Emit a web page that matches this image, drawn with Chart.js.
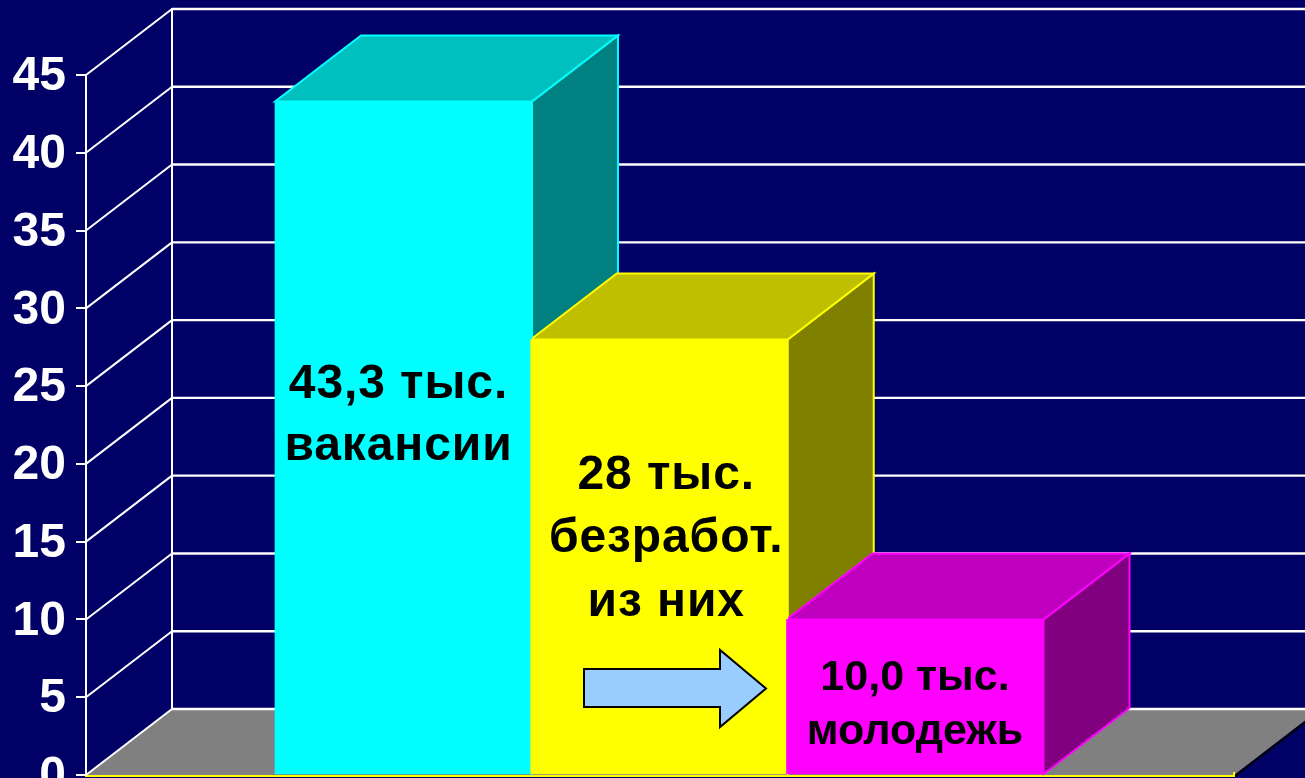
<!DOCTYPE html>
<html><head><meta charset="utf-8">
<style>html,body{margin:0;padding:0;background:#000066;overflow:hidden}canvas{display:block}</style>
<script src="https://cdn.jsdelivr.net/npm/chart.js@4"></script>
</head><body><canvas id="c" width="1305" height="778"></canvas>
<script>
const positions = [0, 1, 2];
const values = [43.3, 28, 10];
const frontColors = ['#00FFFF', '#FFFF00', '#FF00FF'];
const topColors = ['#00BFBF', '#BFBF00', '#BF00BF'];
const sideColors = ['#008080', '#808000', '#800080'];
const barTexts = [['43,3 тыс.', 'вакансии'], ['28 тыс.', 'безработ.', 'из них'], ['10,0 тыс.', 'молодежь']];
const yTicks = [0, 5, 10, 15, 20, 25, 30, 35, 40, 45];

const DX = 86, DY = 66;
const FONT = '"Liberation Sans", Arial, sans-serif';
const textStyle = [
  {size: 48, spacing: 0.9, dx: -5, ys: [398, 460]},
  {size: 48, spacing: 0.9, dx: 7, ys: [489, 552, 616]},
  {size: 43, spacing: 0, dx: 0, ys: [690, 744]}
];

function poly(ctx, pts, fill, stroke, lw) {
  ctx.beginPath();
  pts.forEach((p, i) => i ? ctx.lineTo(p[0], p[1]) : ctx.moveTo(p[0], p[1]));
  ctx.closePath();
  if (fill) { ctx.fillStyle = fill; ctx.fill(); }
  if (stroke) { ctx.strokeStyle = stroke; ctx.lineWidth = lw; ctx.lineJoin = 'miter'; ctx.stroke(); }
}
function line(ctx, x1, y1, x2, y2, color, lw) {
  ctx.beginPath(); ctx.moveTo(x1, y1); ctx.lineTo(x2, y2);
  ctx.strokeStyle = color; ctx.lineWidth = lw; ctx.stroke();
}

const box3d = {
  id: 'box3d',
  beforeDatasetsDraw(chart) {
    const ctx = chart.ctx, a = chart.chartArea, y = chart.scales.y;
    ctx.save();
    // floor
    poly(ctx, [[a.left, a.bottom], [a.left + DX, a.bottom - DY], [a.right + DX, a.bottom - DY], [a.right, a.bottom]], '#808080');
    // black edge on the floor's right side
    line(ctx, a.right + 1, a.bottom + 1, a.right + DX + 1, a.bottom - DY + 1, '#000000', 2);
    // walls grid
    yTicks.forEach(t => {
      const py = y.getPixelForValue(t);
      line(ctx, a.left, py, a.left + DX, py - DY, '#FFFFFF', 2);
      line(ctx, a.left + DX, py - DY, a.right + DX, py - DY, '#FFFFFF', 2.4);
    });
    line(ctx, a.left + DX, y.getPixelForValue(45) - DY - 1, a.left + DX, a.bottom - DY, '#FFFFFF', 2);
    // bar tops and sides, back to front
    chart.getDatasetMeta(0).data.forEach((el, i) => {
      const r = el.x + el.width / 2, l = el.x - el.width / 2, t = el.y, b = el.base;
      poly(ctx, [[r, b], [r + DX, b - DY], [r + DX, t - DY], [r, t]], sideColors[i], frontColors[i], 2);
      poly(ctx, [[l, t], [l + DX, t - DY], [r + DX, t - DY], [r, t]], topColors[i], frontColors[i], 2);
    });
    ctx.restore();
  },
  afterDatasetsDraw(chart) {
    const ctx = chart.ctx, a = chart.chartArea;
    ctx.save();
    ctx.textAlign = 'center';
    ctx.textBaseline = 'alphabetic';
    ctx.fillStyle = '#000000';
    chart.getDatasetMeta(0).data.forEach((el, i) => {
      const s = textStyle[i];
      ctx.font = 'bold ' + s.size + 'px ' + FONT;
      ctx.letterSpacing = s.spacing + 'px';
      barTexts[i].forEach((txt, k) => ctx.fillText(txt, el.x + s.dx, s.ys[k]));
    });
    ctx.letterSpacing = '0px';
    // arrow annotation
    poly(ctx, [[584, 669], [720, 669], [720, 650], [766, 688.5], [720, 727], [720, 707], [584, 707]], '#99CCFF', '#000000', 2);
    // end notch of the base axis
    line(ctx, a.right, a.bottom - 3, a.right, a.bottom + 2, '#FFFF00', 2);
    ctx.restore();
  }
};

new Chart(document.getElementById('c'), {
  type: 'bar',
  data: {
    datasets: [{
      data: positions.map((x, i) => ({x, y: values[i]})),
      backgroundColor: frontColors,
      borderWidth: 0,
      barThickness: 257
    }]
  },
  plugins: [box3d],
  options: {
    responsive: false,
    animation: false,
    events: [],
    layout: {padding: {top: 75, bottom: 3, right: 71, left: 0}},
    plugins: {legend: {display: false}, tooltip: {enabled: false}, title: {display: false}},
    scales: {
      x: {
        type: 'linear', min: -1.2414, max: 3.2473, z: 1, offset: false,
        afterFit(s) { s.height = 0; s.paddingLeft = 0; s.paddingRight = 0; },
        ticks: {display: false},
        grid: {display: false},
        border: {display: true, color: '#FFFF00', width: 3}
      },
      y: {
        min: 0, max: 45,
        afterFit(s) { s.width = 86; s.paddingTop = 0; s.paddingBottom = 0; },
        ticks: {stepSize: 5, color: '#FFFFFF', padding: 10, labelOffset: 2, autoSkip: false, font: {family: FONT, weight: 'bold', size: 48}},
        grid: {drawOnChartArea: false, drawTicks: true, tickLength: 10, color: '#FFFFFF', lineWidth: 2},
        border: {display: true, color: '#FFFFFF', width: 2}
      }
    }
  }
});
</script></body></html>
